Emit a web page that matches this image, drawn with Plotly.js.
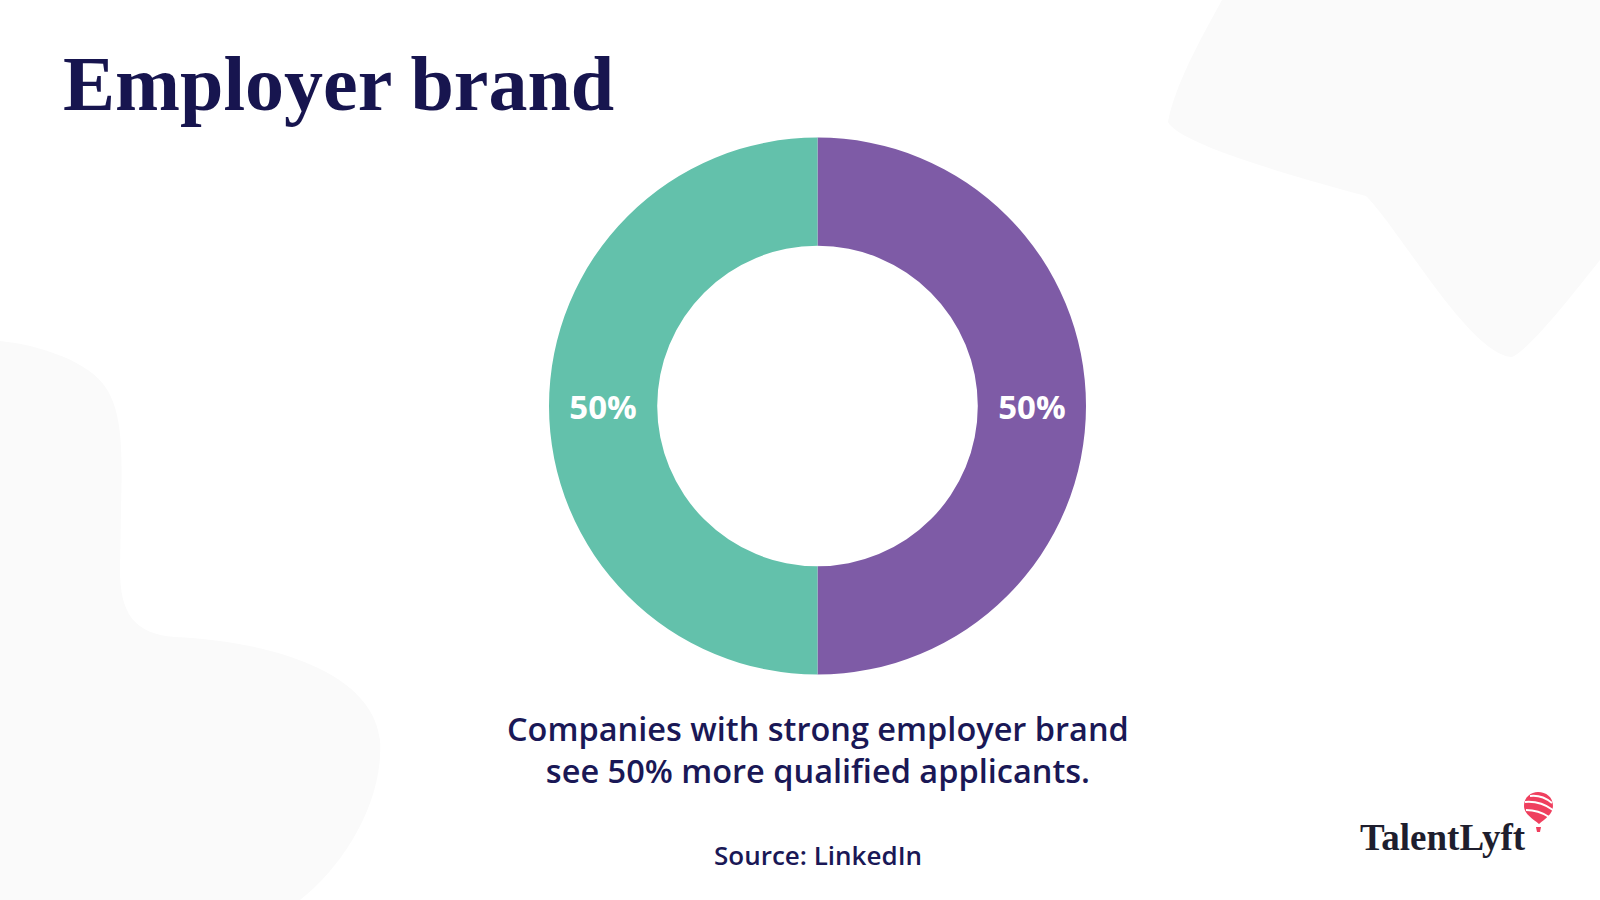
<!DOCTYPE html>
<html>
<head>
<meta charset="utf-8">
<script src="https://cdn.plot.ly/plotly-3.0.1.min.js"></script>
<style>html,body{margin:0;padding:0;background:#fff;}#chart{width:1600px;height:900px;}</style>
</head>
<body>
<div id="chart"></div>
<script>
// ---- data ----
const sliceLabels = ["Strong employer brand", "Other"];
const sliceValues = [50, 50];
const sliceColors = ["#7E5BA6", "#63C1AB"];
const titleText = "Employer brand";
const captionLines = ["Companies with strong employer brand", "see 50% more qualified applicants."];
const sourceText = "Source: LinkedIn";
const logoText = "TalentLyft";

const W = 1600, H = 900;
const px = x => x / W;
const py = y => 1 - y / H;
function pathToPaper(s) {
  const toks = s.trim().split(/\s+/);
  const out = []; let isX = true;
  for (const t of toks) {
    if (/^[A-Za-z]$/.test(t)) { out.push(t); isX = true; continue; }
    const v = parseFloat(t);
    out.push(isX ? px(v).toFixed(5) : py(v).toFixed(5));
    isX = !isX;
  }
  return out.join(" ");
}
const bg = "#FAFAFA";
const navy = "#1A1856";
const sans = "'Open Sans', Lato, sans-serif";

const shapes = [
  {type: "path", xref: "paper", yref: "paper", layer: "below", line: {width: 0}, fillcolor: bg,
   path: pathToPaper("M 1222 0 C 1200 40 1175 85 1168 122 C 1180 145 1300 178 1366 196 C 1400 230 1470 355 1512 357 C 1530 350 1580 285 1600 260 L 1600 0 Z")},
  {type: "path", xref: "paper", yref: "paper", layer: "below", line: {width: 0}, fillcolor: bg,
   path: pathToPaper("M 0 341 C 40 345 90 362 106 388 C 124 415 122 460 121 510 L 120 570 C 120 612 133 634 175 637 C 262 641 372 668 380 740 C 384 800 345 865 300 900 L 0 900 Z")},
  // balloon logo
  {type: "path", xref: "paper", yref: "paper", line: {width: 0}, fillcolor: "#EF3F5E",
   path: pathToPaper("M 1524 806 C 1524 797 1531 792 1538 792 C 1546 792 1553 797 1553 806 C 1553 814 1545 819 1539 824 C 1533 819 1524 814 1524 806 Z")},
  {type: "path", xref: "paper", yref: "paper", line: {width: 0}, fillcolor: "#EF3F5E",
   path: pathToPaper("M 1536 827 L 1541 827 L 1540 832 L 1537 832 Z")},
  {type: "path", xref: "paper", yref: "paper", line: {color: "#FFFFFF", width: 2},
   path: pathToPaper("M 1530 796 C 1538 795 1546 798 1552 803")},
  {type: "path", xref: "paper", yref: "paper", line: {color: "#FFFFFF", width: 2},
   path: pathToPaper("M 1525 802 C 1536 801 1546 805 1553 810")},
  {type: "path", xref: "paper", yref: "paper", line: {color: "#FFFFFF", width: 2},
   path: pathToPaper("M 1526 810 C 1536 810 1543 813 1549 817")}
];

const annotations = [
  {xref: "paper", yref: "paper", x: px(818), y: py(749), xanchor: "center", yanchor: "middle", showarrow: false,
   text: captionLines.join("<br>"), align: "center",
   font: {family: sans, size: 32.5, color: navy, weight: 600}},
  {xref: "paper", yref: "paper", x: px(818), y: py(855), xanchor: "center", yanchor: "middle", showarrow: false,
   text: sourceText, font: {family: sans, size: 26, color: navy, weight: 600}},
  {xref: "paper", yref: "paper", x: px(1443), y: py(837), xanchor: "center", yanchor: "middle", showarrow: false,
   text: "<b>" + logoText + "</b>", font: {family: "'Liberation Serif', serif", size: 37, color: "#1E1E2E"}}
];

const trace = {
  type: "pie",
  labels: sliceLabels,
  values: sliceValues,
  hole: 0.597,
  sort: false,
  direction: "clockwise",
  rotation: 0,
  marker: {colors: sliceColors, line: {width: 0}},
  textinfo: "percent",
  texttemplate: "%{percent:.0%}",
  textposition: "inside",
  insidetextorientation: "horizontal",
  textfont: {family: sans, size: 33, color: "#FFFFFF", weight: 700},
  domain: {x: [px(549), px(1086)], y: [py(674.5), py(137.5)]},
  showlegend: false,
  hoverinfo: "label+percent"
};

const layout = {
  width: W, height: H,
  margin: {l: 0, r: 0, t: 0, b: 0},
  paper_bgcolor: "#FFFFFF",
  plot_bgcolor: "#FFFFFF",
  title: {text: "<b>" + titleText + "</b>", x: px(63), xanchor: "left", xref: "container",
          y: py(83), yanchor: "middle", yref: "container",
          font: {family: "'Liberation Serif', 'DejaVu Serif', serif", size: 78, color: "#17154F"}},
  shapes: shapes,
  annotations: annotations,
  showlegend: false
};

Plotly.newPlot("chart", [trace], layout, {displayModeBar: false, staticPlot: true});
</script>
</body>
</html>
